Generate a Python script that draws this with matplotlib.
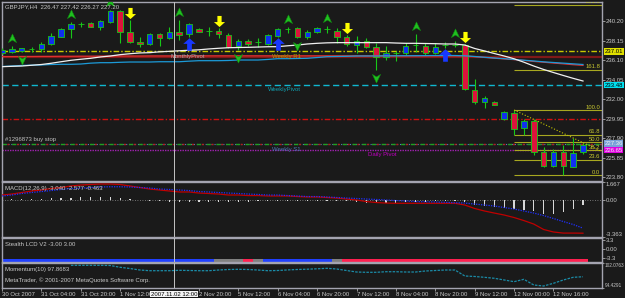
import numpy as np
import matplotlib
matplotlib.use("Agg")
import matplotlib.pyplot as plt
import matplotlib.transforms as mtransforms
from matplotlib.path import Path

plt.rcParams['font.family'] = ['Liberation Sans', 'DejaVu Sans']
plt.rcParams['font.size'] = 4.3

# ---------------- data (GBPJPY H4) ----------------
bars = np.arange(-1, 59)

opens = [236.88, 236.95, 237.09, 237.27, 237.30, 237.76, 238.55, 239.33, 239.87, 239.96,
         239.54, 240.13, 241.25, 239.02, 238.03, 237.76, 238.84, 238.39, 239.02, 238.81,
         239.36, 239.13, 239.15, 238.73, 237.61, 238.10, 237.97, 237.79, 238.63, 239.33,
         239.43, 238.49, 239.08, 239.33, 239.18, 238.49, 237.68, 238.10, 237.51, 236.46,
         236.80, 236.82, 237.66, 237.58, 236.88, 237.66, 237.72, 237.68, 232.97, 231.68,
         231.74, 229.90, 230.53, 229.02, 229.75, 226.44, 225.04, 226.44, 224.93, 226.47]
highs = [237.37, 237.58, 237.40, 237.51, 237.97, 238.91, 239.43, 240.13, 240.13, 240.13,
         240.30, 241.35, 241.30, 240.30, 238.49, 238.97, 238.91, 239.60, 240.30, 239.96,
         239.50, 239.60, 239.43, 238.91, 238.31, 238.31, 238.39, 238.81, 239.43, 239.60,
         239.60, 239.26, 239.54, 239.68, 239.43, 238.73, 238.63, 238.39, 237.86, 237.58,
         237.09, 237.86, 238.84, 237.86, 237.93, 238.03, 238.10, 237.79, 234.12, 232.34,
         231.82, 230.77, 230.87, 229.93, 229.93, 227.03, 226.79, 227.21, 227.94, 227.42]
lows = [236.74, 236.88, 236.98, 236.92, 236.98, 237.68, 238.50, 238.45, 239.60, 239.54,
        239.26, 239.96, 237.86, 237.89, 237.51, 237.68, 237.58, 238.28, 238.21, 238.55,
        239.02, 238.66, 238.39, 237.34, 237.16, 237.61, 237.51, 237.68, 238.55, 238.91,
        238.42, 238.28, 238.91, 238.97, 237.86, 237.58, 236.82, 237.34, 235.07, 236.11,
        236.01, 236.64, 236.98, 236.64, 236.74, 237.34, 237.45, 232.97, 231.47, 231.11,
        231.35, 229.83, 228.25, 228.25, 226.16, 224.93, 224.93, 224.06, 224.93, 226.27]
closes = [237.16, 237.24, 237.34, 237.30, 237.76, 238.63, 239.36, 239.85, 239.91, 239.60,
          240.20, 241.25, 239.02, 237.97, 237.76, 238.84, 238.39, 239.02, 238.76, 239.85,
          239.08, 239.17, 238.81, 237.51, 238.10, 237.82, 238.00, 238.70, 239.36, 239.38,
          238.52, 239.08, 239.43, 239.36, 238.49, 237.76, 238.10, 237.51, 236.46, 236.82,
          236.84, 237.58, 237.70, 236.88, 237.51, 237.70, 237.66, 233.04, 231.68, 232.10,
          231.40, 230.63, 228.85, 229.75, 226.44, 225.04, 226.44, 225.04, 226.34, 227.20]

ma_red = [236.47, 236.47, 236.48, 236.48, 236.49, 236.49, 236.50, 236.50, 236.51, 236.51,
          236.52, 236.52, 236.53, 236.53, 236.53, 236.54, 236.54, 236.54, 236.55, 236.55,
          236.55, 236.55, 236.55, 236.55, 236.55, 236.55, 236.55, 236.55, 236.55, 236.55,
          236.55, 236.55, 236.55, 236.55, 236.55, 236.55, 236.55, 236.55, 236.55, 236.55,
          236.55, 236.55, 236.55, 236.55, 236.55, 236.55, 236.55, 236.53, 236.46, 236.38,
          236.30, 236.22, 236.15, 236.07, 235.96, 235.88, 235.79, 235.71, 235.62, 235.55]
ma_cyan = [235.43, 235.48, 235.54, 235.57, 235.59, 235.64, 235.66, 235.66, 235.69, 235.78,
           235.83, 235.83, 235.87, 235.90, 235.90, 235.90, 235.93, 235.93, 235.93, 235.99,
           236.04, 236.04, 236.04, 236.06, 236.11, 236.11, 236.11, 236.17, 236.25, 236.25,
           236.27, 236.29, 236.37, 236.46, 236.48, 236.50, 236.53, 236.53, 236.53, 236.55,
           236.55, 236.56, 236.56, 236.57, 236.58, 236.58, 236.58, 236.55, 236.48, 236.40,
           236.32, 236.25, 236.17, 236.09, 236.01, 235.92, 235.85, 235.78, 235.71, 235.64]
ma_white = [235.41, 235.45, 235.48, 235.56, 235.64, 235.77, 235.93, 236.08, 236.19, 236.29,
            236.43, 236.53, 236.67, 236.77, 236.85, 236.88, 236.97, 237.02, 237.08, 237.13,
            237.18, 237.27, 237.34, 237.40, 237.42, 237.44, 237.47, 237.50, 237.51, 237.60,
            237.68, 237.79, 237.86, 237.91, 237.93, 237.93, 237.93, 237.93, 237.93, 237.93,
            237.89, 237.86, 237.86, 237.84, 237.82, 237.79, 237.79, 237.68, 237.32, 237.06,
            236.79, 236.53, 236.24, 235.88, 235.48, 235.12, 234.80, 234.49, 234.19, 233.91]

fractal_up = [0, 6, 10, 17, 28, 32, 41, 45]
fractal_dn = [1, 23, 29, 37]
sell_signals = [12, 21, 34, 46]
buy_signals = [18, 27, 44]

weekly_r1 = 237.01
monthly_pivot = 236.40
weekly_pivot = 233.48
red_level = 229.90
buy_stop = 227.36
weekly_s1 = 227.30
daily_pivot = 226.65

fib_from, fib_to = 51, 56          # high of bar 51 -> low of bar 56
fib_ratios = [2.618, 1.618, 1.0, 0.618, 0.5, 0.382, 0.236, 0.0]
trend_bars = [51, 57]              # trendline through these highs

macd_main = [0.47, 0.56, 0.70, 0.84, 0.93, 1.07, 1.16, 1.30, 1.39, 1.44,
             1.48, 1.48, 1.44, 1.30, 1.16, 1.02, 0.93, 0.84, 0.75, 0.75,
             0.65, 0.61, 0.56, 0.47, 0.47, 0.42, 0.42, 0.38, 0.38, 0.38,
             0.33, 0.29, 0.29, 0.24, 0.19, 0.10, 0.01, -0.13, -0.22, -0.27,
             -0.29, -0.29, -0.29, -0.29, -0.29, -0.29, -0.29, -0.45, -0.77, -1.00,
             -1.19, -1.37, -1.60, -1.88, -2.20, -2.70, -2.93, -3.03, -3.03, -3.04]
macd_signal = [0.38, 0.47, 0.61, 0.70, 0.79, 0.88, 0.98, 1.07, 1.11, 1.16,
               1.21, 1.23, 1.23, 1.21, 1.16, 1.11, 1.02, 0.98, 0.93, 0.88,
               0.79, 0.75, 0.70, 0.65, 0.61, 0.56, 0.52, 0.47, 0.47, 0.42,
               0.38, 0.33, 0.33, 0.29, 0.24, 0.19, 0.15, 0.10, 0.06, 0.01,
               -0.04, -0.08, -0.13, -0.15, -0.17, -0.20, -0.24, -0.27, -0.36, -0.45,
               -0.54, -0.68, -0.82, -1.00, -1.19, -1.42, -1.69, -1.97, -2.24, -2.577]

# 1 = blue, -1 = red, 0 = grey
stealth_state = [1, 1, 1, 1, 1, 1, 1, 1, 1, 1,
                 1, 1, 1, 1, 1, 1, 1, 1, 1, 1,
                 1, 1, 0, 0, 0, -1, 0, 1, 1, 1,
                 1, 1, 1, 1, 0, -1, -1, -1, -1, -1,
                 -1, -1, -1, -1, -1, -1, -1, -1, -1, -1,
                 -1, -1, -1, -1, -1, -1, -1, -1, -1, -1]

momentum = [np.nan, np.nan, np.nan, np.nan, np.nan, np.nan, np.nan, 101.37, 101.37, 101.37,
            101.37, 101.31, 100.76, 100.39, 99.93, 99.72, 99.72, 99.72, 99.84, 99.78,
            99.72, 99.72, 99.93, 100.09, 100.15, 100.09, 99.93, 99.72, 99.78, 99.96,
            100.09, 100.18, 100.30, 100.45, 100.24, 99.78, 99.32, 99.23, 99.23, 99.41,
            99.41, 99.32, 99.32, 99.63, 99.78, 99.93, 99.93, 98.10, 97.95, 97.70,
            97.40, 96.88, 96.36, 97.09, 95.35, 95.04, 95.87, 96.88, 97.70, 97.8683]

# the 2 Nov 04:00 label sits under the cursor date box in the screenshot
tick_bars = [-1, 3, 7, 11, 19, 23, 27, 31, 35, 39, 43, 47, 51, 55]
tick_labels = ['30 Oct 2007', '31 Oct 04:00', '31 Oct 20:00', '1 Nov 12:00',
               '2 Nov 20:00', '5 Nov 12:00', '6 Nov 04:00', '6 Nov 20:00', '7 Nov 12:00',
               '8 Nov 04:00', '8 Nov 20:00', '9 Nov 12:00', '12 Nov 00:00', '12 Nov 16:00']
price_ticks = [240.20, 238.15, 236.10, 234.05, 232.00, 229.95, 227.90, 225.85, 223.80]
cursor_bar = 16.5

# ---------------- style ----------------
BG = '#1a1a1a'
GRID_C = '#a4a4b0'
TXT = '#c8c8c8'
GREEN = '#18c818'
BULL = '#1030f0'
BEAR = '#dc143c'

W, H = 625, 298
fig = plt.figure(figsize=(6.25, 2.98), dpi=100, facecolor=BG)


def rect(x0, y0, x1, y1):
    return [x0 / W, 1 - y1 / H, (x1 - x0) / W, (y1 - y0) / H]


ax = fig.add_axes(rect(2, 2, 602, 181))
ax_macd = fig.add_axes(rect(2, 182, 602, 236.7), sharex=ax)
ax_st = fig.add_axes(rect(2, 238, 602, 261.5), sharex=ax)
ax_mom = fig.add_axes(rect(2, 263, 602, 288), sharex=ax)
axes = [ax, ax_macd, ax_st, ax_mom]

for a in axes:
    a.set_facecolor(BG)
    for s in a.spines.values():
        s.set_color(GRID_C)
        s.set_linewidth(1.0)
    a.yaxis.tick_right()
    a.tick_params(axis='y', colors=TXT, labelsize=4.3, length=2, width=0.5, pad=0.8)
    a.tick_params(axis='x', bottom=False, labelbottom=False)
    a.axvline(cursor_bar, color='#c4c4c4', lw=0.7, zorder=7)

ax.set_xlim(-0.985, 59.93)

# ---------------- main chart ----------------
o = np.array(opens); h = np.array(highs); l = np.array(lows); c = np.array(closes)
up = c >= o
ax.vlines(bars, l, h, color=GREEN, lw=0.8, zorder=3)
ax.bar(bars, np.maximum(np.abs(c - o), 0.02), bottom=np.minimum(o, c), width=0.56,
       color=np.where(up, BULL, BEAR), edgecolor=GREEN, linewidth=0.6, zorder=4)

# horizontal levels
ax.axhline(weekly_r1, color='#c8c800', lw=1.0, ls=(0, (4, 1.5, 1, 1.5)), zorder=2)
ax.axhline(monthly_pivot, color='#801818', lw=1.6, zorder=2)
ax.axhline(weekly_pivot, color='#10b8d0', lw=1.0, ls=(0, (4.5, 2.5)), zorder=2)
ax.axhline(red_level, color='#d01010', lw=1.0, ls=(0, (4, 1.5, 1, 1.5)), zorder=2)
ax.axhline(weekly_s1, color='#5a7fc0', lw=0.8, ls=':', zorder=2)
ax.axhline(buy_stop, color='#20a020', lw=1.0, ls=(0, (3, 4)), zorder=2)
ax.axhline(buy_stop, color='#b02020', lw=1.0, ls=(3.5, (1.5, 5.5)), zorder=2)
ax.axhline(daily_pivot, color='#a020b0', lw=1.0, ls=(0, (1, 0.8)), zorder=2)

# moving averages
ax.plot(bars, ma_red, color='#e03030', lw=0.9, zorder=5)
ax.plot(bars, ma_cyan, color='#1c9ad8', lw=0.9, zorder=5)
ax.plot(bars, ma_white, color='#f0f0f0', lw=0.9, zorder=5)

# fibonacci + trendline
f_hi = highs[fib_from + 1]
f_lo = lows[fib_to + 1]
xmax = ax.get_xlim()[1]
for r in fib_ratios:
    lvl = f_lo + r * (f_hi - f_lo)
    ax.hlines(lvl, fib_from, xmax, color='#a8a820', lw=0.8, zorder=2)
    ax.text(xmax - 0.2, lvl + 0.05, f'{r * 100:.1f}', color='#c8c830', ha='right',
            va='bottom', fontsize=4.2, zorder=6, clip_on=True)
t0, t1 = trend_bars
slope = (highs[t1 + 1] - highs[t0 + 1]) / (t1 - t0)
ax.plot([t0, xmax], [highs[t0 + 1], highs[t0 + 1] + slope * (xmax - t0)],
        color='#c8c800', lw=0.8, ls=':', zorder=5)

# signal markers
arrow_dn = Path([(-0.38, 1), (0.38, 1), (0.38, -0.1), (1, -0.1), (0, -1), (-1, -0.1),
                 (-0.38, -0.1), (-0.38, 1)], closed=True)
arrow_up = Path([(x, -y) for x, y in arrow_dn.vertices], closed=True)
chev_up = Path([(0, 1), (0.9, -0.9), (0, -0.35), (-0.9, -0.9), (0, 1)], closed=True)
chev_dn = Path([(0, -1), (0.9, 0.9), (0, 0.35), (-0.9, 0.9), (0, -1)], closed=True)

hi = np.array(highs); lo = np.array(lows)
ax.plot(fractal_up, hi[np.array(fractal_up) + 1] + 0.80, ls='none', marker=chev_up,
        ms=6.5, color='#20c020', mec='#109010', mew=0.4, zorder=6)
ax.plot(fractal_dn, lo[np.array(fractal_dn) + 1] - 0.85, ls='none', marker=chev_dn,
        ms=6.5, color='#20c020', mec='#109010', mew=0.4, zorder=6)
ax.plot(sell_signals, hi[np.array(sell_signals) + 1] + 0.75, ls='none', marker=arrow_dn,
        ms=8, color='#ffff00', mew=0, zorder=6)
ax.plot(buy_signals, lo[np.array(buy_signals) + 1] - 0.75, ls='none', marker=arrow_up,
        ms=9, color='#1838ff', mew=0, zorder=6)

# texts on the chart
ax.text(0.005, 0.985, 'GBPJPY,H4  226.47 227.42 226.27 227.20', transform=ax.transAxes,
        color=TXT, ha='left', va='top', fontsize=4.3, zorder=8)
ax.text(16.1, 236.48, 'MonthlyPivot', color='#a8a8a8', ha='left', va='center', fontsize=4.3, zorder=6)
ax.text(26.4, 236.52, 'Weekly R1', color='#a8a800', ha='left', va='center', fontsize=4.3, zorder=6)
ax.text(26.0, 233.02, 'WeeklyPivot', color='#10a0b0', ha='left', va='center', fontsize=4.3, zorder=6)
ax.text(26.4, 226.68, 'Weekly S1', color='#4a78b8', ha='left', va='center', fontsize=4.3, zorder=6)
ax.text(36.2, 226.16, 'Daily Pivot', color='#c000c0', ha='left', va='center', fontsize=4.3, zorder=6)
ax.text(-0.7, 227.83, '#1296873 buy stop', color='#c0c0c0', ha='left', va='center', fontsize=4.3, zorder=6)

ax.set_ylim(223.43, 242.19)
ax.set_yticks(price_ticks)
ax.set_yticklabels([f'{p:.2f}' for p in price_ticks])

ytr = mtransforms.blended_transform_factory(ax.transAxes, ax.transData)
for price, txt, fc, tc in [(weekly_r1, '237.01', '#e0e000', 'black'),
                           (weekly_pivot, '233.48', '#00e0f0', 'black'),
                           (buy_stop, '227.36', '#78a0d8', '#f0f0f0'),
                           (daily_pivot, '226.65', '#e000e0', '#f0f0f0')]:
    ax.text(1.004, price, txt, transform=ytr, ha='left', va='center', fontsize=4.3, color=tc,
            clip_on=False, zorder=9,
            bbox=dict(boxstyle='square,pad=0.12', fc=fc, ec='none'))

# ---------------- MACD ----------------
mm = np.array(macd_main); ms_ = np.array(macd_signal)
ax_macd.axhline(0, color='#909090', lw=0.6, ls=(0, (1, 2)), zorder=1)
ax_macd.bar(bars, mm - ms_, width=0.12, color='#d8d8d8', zorder=2)
ax_macd.plot(bars, mm, color='#c00000', lw=0.9, zorder=3)
ax_macd.plot(bars, ms_, color='#2030ff', lw=0.9, ls=(0, (1, 1)), zorder=3)
ax_macd.set_ylim(-3.363, 1.667)
ax_macd.set_yticks([1.667, 0.0, -3.363])
ax_macd.set_yticklabels(['1.667', '0.00', '-3.363'])
lbl = ax_macd.get_yticklabels()
lbl[0].set_va('top'); lbl[2].set_va('bottom')
ax_macd.text(0.005, 0.93, 'MACD(12,26,9) -3.040 -2.577 -0.463', transform=ax_macd.transAxes,
             color=TXT, ha='left', va='top', fontsize=4.3)

# ---------------- Stealth LCD ----------------
st = np.array(stealth_state)
st_colors = np.where(st > 0, '#2040ff', np.where(st < 0, '#ff2050', '#808080'))
ax_st.bar(bars, 0.95, bottom=-4.58, width=1.0, color=st_colors, zorder=2)
ax_st.set_ylim(-4.58, 4.03)
ax_st.set_yticks([3.3, 0.0, -3.3])
ax_st.set_yticklabels(['3.3', '0.00', '-3.3'])
ax_st.text(0.005, 0.85, 'Stealth LCD V2 -3.00 3.00', transform=ax_st.transAxes,
           color=TXT, ha='left', va='top', fontsize=4.3)

# ---------------- Momentum ----------------
ax_mom.plot(bars, momentum, color='#1a8ca8', lw=0.9, ls=(0, (2, 1)), zorder=3)
ax_mom.set_ylim(94.4291, 102.0763)
ax_mom.set_yticks([102.0763, 94.4291])
ax_mom.set_yticklabels(['102.0763', '94.4291'])
ax_mom.tick_params(axis='y', labelsize=3.4, pad=0.4, length=1.5)
lbl = ax_mom.get_yticklabels()
lbl[0].set_va('top'); lbl[1].set_va('bottom')
ax_mom.text(0.005, 0.84, 'Momentum(10) 97.8683', transform=ax_mom.transAxes,
            color=TXT, ha='left', va='top', fontsize=4.3)
ax_mom.text(0.005, 0.33, 'MetaTrader, \u00a9 2001-2007 MetaQuotes Software Corp.',
            transform=ax_mom.transAxes, color=TXT, ha='left', va='center', fontsize=4.3)

ax_mom.tick_params(axis='x', bottom=True, labelbottom=True, colors=TXT, labelsize=4.3,
                   length=2, width=0.5, pad=1)
ax_mom.set_xticks(tick_bars)
ax_mom.set_xticklabels(tick_labels, ha='left')
xtr = mtransforms.blended_transform_factory(ax_mom.transData, ax_mom.transAxes)
ax_mom.text(cursor_bar, -0.24, '2007.11.02 12:00', transform=xtr, ha='center', va='center',
            fontsize=4.3, color='black', clip_on=False, zorder=9,
            bbox=dict(boxstyle='square,pad=0.12', fc='#f4f4f4', ec='none'))

fig.savefig('out.png', dpi=100, facecolor=BG)
